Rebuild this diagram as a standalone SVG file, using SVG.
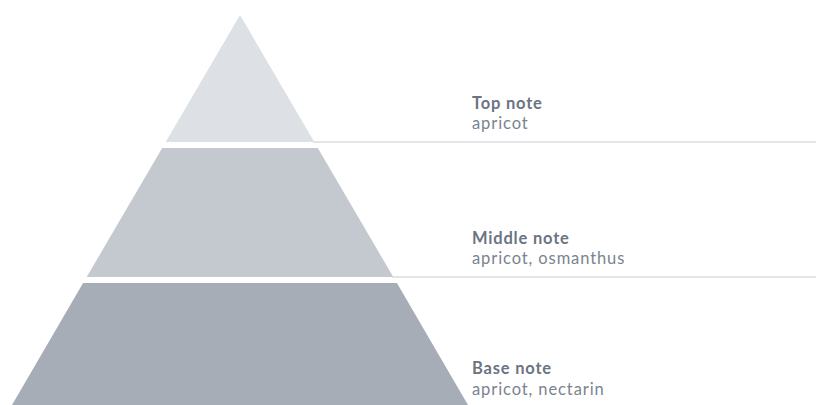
<svg xmlns="http://www.w3.org/2000/svg" width="816" height="405" viewBox="0 0 816 405">
<style>
.title{font-family:Lato,"Open Sans","Liberation Sans",sans-serif;font-size:16.5px;letter-spacing:0.8px;font-weight:bold;fill:#6b7482}
.desc{font-family:Lato,"Open Sans","Liberation Sans",sans-serif;font-size:16.5px;letter-spacing:0.9px;fill:#7b838f}
.rule{stroke:#d9dde2;stroke-width:1.6;fill:none}
</style>
<rect width="816" height="405" fill="#ffffff"/>
<g id="top-note">
<polygon points="240,15 165.7,142 314.3,142" fill="#dde0e5"/>
<text class="title" x="472" y="109">Top note</text>
<text class="desc" x="472" y="129">apricot</text>
</g>
<g id="middle-note">
<polygon points="162.2,148 317.8,148 393.3,277 86.7,277" fill="#c4c8cf"/>
<text class="title" x="472" y="244">Middle note</text>
<text class="desc" x="472" y="264">apricot, osmanthus</text>
</g>
<g id="base-note">
<polygon points="83.1,283 396.9,283 468,405 12,405" fill="#a6adb6"/>
<text class="title" x="472" y="374">Base note</text>
<text class="desc" x="472" y="395">apricot, nectarin</text>
</g>
<g id="connectors">
<line class="rule" x1="313" y1="142" x2="816" y2="142"/>
<line class="rule" x1="392" y1="277" x2="816" y2="277"/>
</g>
</svg>
